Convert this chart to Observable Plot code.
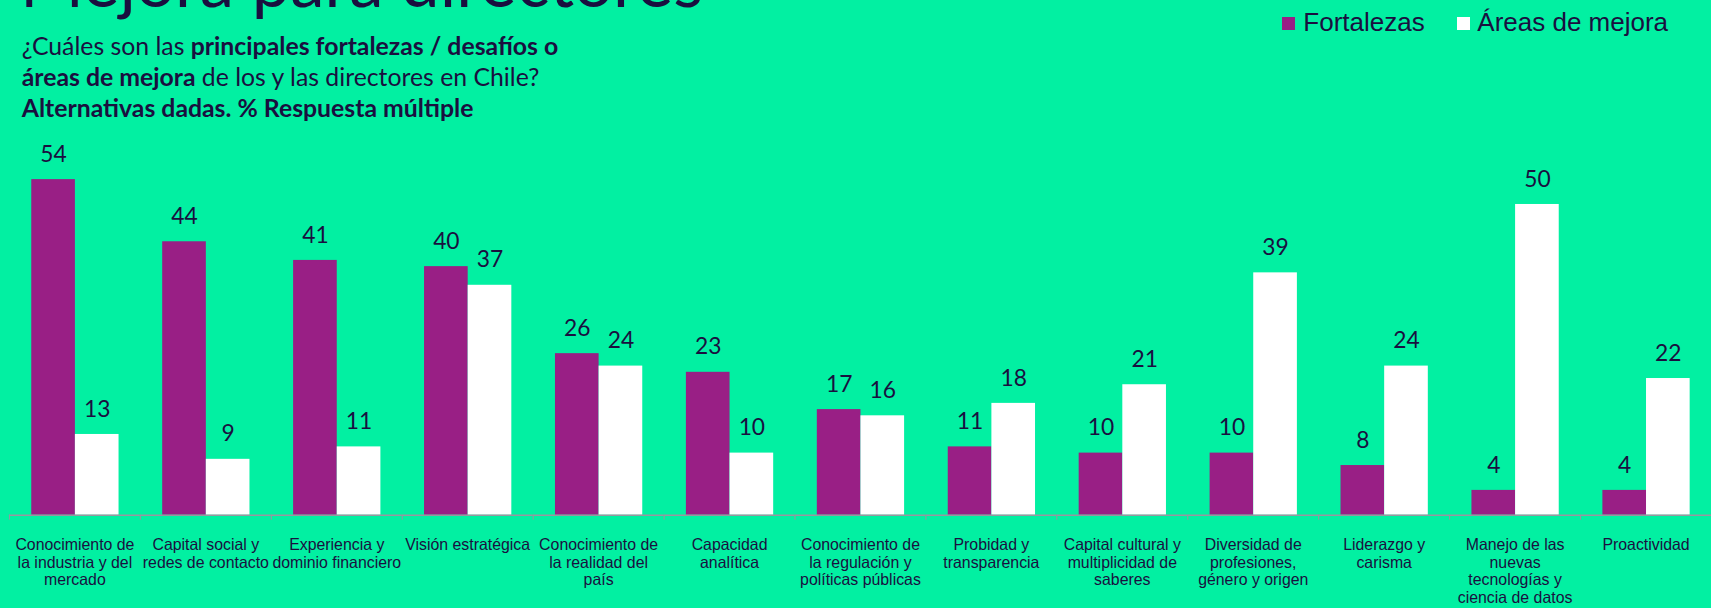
<!DOCTYPE html>
<html>
<head>
<meta charset="utf-8">
<script src="https://cdn.jsdelivr.net/npm/d3@7"></script>
<script src="https://cdn.jsdelivr.net/npm/@observablehq/plot@0.6"></script>
<style>
  html, body { margin: 0; padding: 0; background: #02F0A2; overflow: hidden; }
  #page { position: relative; width: 1711px; height: 608px; overflow: hidden; background: #02F0A2; }
  #header { position: relative; height: 120px; }
  .title { position: absolute; left: 20px; top: -54px; font: 69px/69px Lato, sans-serif; color: #1a0f3f; white-space: nowrap; }
  .subtitle { position: absolute; left: 21.7px; top: 30px; font: 24.8px/31px Lato, sans-serif; color: #1a0f3f; white-space: nowrap; }
  .subtitle b { font-weight: 700; }
  .lg-sw { position: absolute; width: 13px; height: 13px; top: 17px; }
  .lg-tx { position: absolute; top: 8.7px; font: 26px/26px "Liberation Sans", Arial, sans-serif; color: #1a0f3f; white-space: nowrap; }
  #chart svg { display: block; }
</style>
</head>
<body>
<div id="page">
  <div id="header">
    <div class="title">Mejora para directores</div>
    <div class="subtitle">¿Cuáles son las <b>principales fortalezas / desafíos o</b><br><b>áreas de mejora</b> de los y las directores en Chile?<br><b>Alternativas dadas. % Respuesta múltiple</b></div>
    <div id="legend"></div>
  </div>
  <div id="chart"></div>
</div>
<script>
const categories = [
  "Conocimiento de\nla industria y del\nmercado",
  "Capital social y\nredes de contacto",
  "Experiencia y\ndominio financiero",
  "Visión estratégica",
  "Conocimiento de\nla realidad del\npaís",
  "Capacidad\nanalítica",
  "Conocimiento de\nla regulación y\npolíticas públicas",
  "Probidad y\ntransparencia",
  "Capital cultural y\nmultiplicidad de\nsaberes",
  "Diversidad de\nprofesiones,\ngénero y origen",
  "Liderazgo y\ncarisma",
  "Manejo de las\nnuevas\ntecnologías y\nciencia de datos",
  "Proactividad"
];
const seriesNames = ["Fortalezas", "Áreas de mejora"];
const fortalezas = [54, 44, 41, 40, 26, 23, 17, 11, 10, 10, 8, 4, 4];
const areasDeMejora = [13, 9, 11, 37, 24, 10, 16, 18, 21, 39, 24, 50, 22];
const colors = ["#991F85", "#FFFFFF"];

const data = [];
categories.forEach((c, i) => {
  data.push({cat: c, serie: seriesNames[0], value: fortalezas[i]});
  data.push({cat: c, serie: seriesNames[1], value: areasDeMejora[i]});
});

// legend
const legend = document.getElementById("legend");
const lgPos = [[1282, 1303.3], [1457.3, 1477.3]];
seriesNames.forEach((s, i) => {
  const sw = document.createElement("div");
  sw.className = "lg-sw";
  sw.style.left = lgPos[i][0] + "px";
  sw.style.background = colors[i];
  legend.appendChild(sw);
  const tx = document.createElement("div");
  tx.className = "lg-tx";
  tx.style.left = lgPos[i][1] + "px";
  tx.textContent = s;
  legend.appendChild(tx);
});

const width = 1725, marginLeft = 8.5, marginRight = 0.5;
const step = (width - marginLeft - marginRight) / categories.length;
const dark = "#1a0f3f";
const axisGray = "#9a95a0";

const chart = Plot.plot({
  width,
  height: 488,
  marginTop: 22,
  marginBottom: 90,
  marginLeft,
  marginRight,
  style: {background: "transparent", overflow: "visible"},
  fx: {domain: categories, padding: 0, label: null},
  x: {domain: seriesNames, paddingInner: 0, paddingOuter: 0.5, axis: null},
  y: {domain: [0, 60], axis: null},
  color: {domain: seriesNames, range: colors},
  marks: [
    Plot.barY(data, {fx: "cat", x: "serie", y: "value", fill: "serie"}),
    Plot.ruleY([0], {stroke: axisGray, strokeWidth: 1.3}),
    Plot.text(data, {
      fx: "cat", x: "serie", y: "value", text: d => String(d.value),
      dy: -18, lineAnchor: "bottom", fontSize: 23, fontFamily: "Lato, sans-serif", fill: dark
    }),
    Plot.axisFx({anchor: "bottom", tickSize: 5, tickFormat: () => "", dx: -step / 2, stroke: axisGray, label: null}),
    Plot.axisFx({
      anchor: "bottom", tickSize: 0, tickPadding: 22, label: null,
      fontSize: 16, fontFamily: "'Liberation Sans', Arial, sans-serif", fill: dark,
      lineHeight: 1.125, textOverflow: null
    })
  ]
});
document.getElementById("chart").appendChild(chart);
</script>
</body>
</html>
